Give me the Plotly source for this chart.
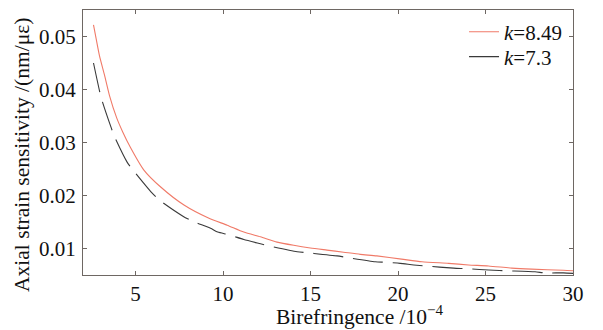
import plotly.graph_objects as go

# Data
x_k849 = [2.60, 2.75, 2.94, 3.23, 3.51, 3.93, 4.27, 4.69, 5.48, 6.44, 7.77, 9.20,
          10.24, 11.19, 12.14, 13.09, 14.04, 14.99, 15.94, 16.89, 17.84, 18.79,
          20.2, 21.37, 22.89, 24.03, 25.17, 26.50, 27.64, 29.45, 30.0]
y_k849 = [0.0522, 0.0496, 0.0464, 0.0427, 0.0389, 0.0346, 0.0320, 0.0292, 0.0248,
          0.0216, 0.0182, 0.0157, 0.0144, 0.0131, 0.0122, 0.0112, 0.0106, 0.0101,
          0.0097, 0.0093, 0.0089, 0.0086, 0.0080, 0.0075, 0.0072, 0.0069, 0.0067,
          0.0063, 0.0061, 0.0059, 0.0058]

x_k73 = [2.60, 2.94, 3.09, 3.60, 3.80, 4.52, 4.86, 5.94, 6.38, 7.71, 8.23, 9.29,
         9.70, 10.33, 11.19, 12.14, 12.62, 14.24, 14.81, 16.52, 17.09, 18.70, 19.27,
         20.12, 20.90, 21.56, 23.18, 23.84, 25.46, 26.12, 27.83, 28.40, 29.45, 30.0]
y_k73 = [0.0450, 0.0398, 0.0379, 0.0329, 0.0311, 0.0263, 0.0248, 0.0205, 0.0191,
         0.0161, 0.0152, 0.0138, 0.0131, 0.0126, 0.0117, 0.0109, 0.0105, 0.0094,
         0.0092, 0.0086, 0.0083, 0.0075, 0.0074, 0.0072, 0.0069, 0.0067, 0.0063,
         0.0062, 0.0059, 0.0058, 0.0056, 0.0054, 0.0054, 0.0053]

x_ticks = [5, 10, 15, 20, 25, 30]
y_ticks = [0.01, 0.02, 0.03, 0.04, 0.05]
y_tick_labels = ["0.01", "0.02", "0.03", "0.04", "0.05"]

x_title = "Birefringence /10<sup>−4</sup>"
y_title = "Axial strain sensitivity /(nm/με)"

FONT = "Liberation Serif"
AXIS_COLOR = "#6e6763"
FS = 21

fig = go.Figure()
fig.add_trace(go.Scatter(
    x=x_k849, y=y_k849, mode="lines", name="<i>k</i>=8.49", legend="legend",
    line=dict(color="#f07a68", width=1.1, shape="spline", smoothing=0.6),
))
fig.add_trace(go.Scatter(
    x=x_k73, y=y_k73, mode="lines", name="<i>k</i>=7.3", legend="legend2",
    line=dict(color="#3a3a3a", width=1.1, dash="30px,10px", shape="spline", smoothing=0.6),
))

leg_common = dict(xanchor="left", yanchor="top", bgcolor="rgba(0,0,0,0)",
                  font=dict(family=FONT, size=FS), itemwidth=30)
fig.update_layout(
    width=603, height=330,
    margin=dict(l=83, r=30, t=10, b=55),
    paper_bgcolor="white", plot_bgcolor="white",
    font=dict(family=FONT, size=FS, color="#111111"),
    legend=dict(x=0.7776, y=0.994, **leg_common),
    legend2=dict(x=0.7776, y=0.90, **leg_common),
    showlegend=True,
)
fig.update_xaxes(
    range=[2, 30], tickvals=x_ticks, ticktext=[str(v) for v in x_ticks],
    ticks="inside", ticklen=4, tickcolor=AXIS_COLOR, ticklabelstandoff=0,
    showline=True, linecolor=AXIS_COLOR, linewidth=1.2, mirror="ticks",
    showgrid=False, zeroline=False,
    tickfont=dict(size=FS),
)
fig.update_yaxes(
    range=[0.005, 0.055], tickvals=y_ticks, ticktext=y_tick_labels,
    ticks="inside", ticklen=4, tickcolor=AXIS_COLOR, ticklabelstandoff=2,
    showline=True, linecolor=AXIS_COLOR, linewidth=1.2, mirror="ticks",
    showgrid=False, zeroline=False,
    tickfont=dict(size=FS),
)

fig.add_annotation(
    text=x_title, xref="paper", yref="paper",
    x=(360 - 83) / (603 - 83 - 30), y=-(315 - 275) / (330 - 10 - 55),
    xanchor="center", yanchor="middle", showarrow=False,
    font=dict(family=FONT, size=FS + 0.5, color="#111111"),
)
fig.add_annotation(
    text=y_title, xref="paper", yref="paper",
    x=-(83 - 22) / (603 - 83 - 30), y=1 - (155 - 10) / (330 - 10 - 55),
    xanchor="center", yanchor="middle", textangle=-90, showarrow=False,
    font=dict(family=FONT, size=FS + 0.5, color="#111111"),
)

fig.write_html("out.html")
